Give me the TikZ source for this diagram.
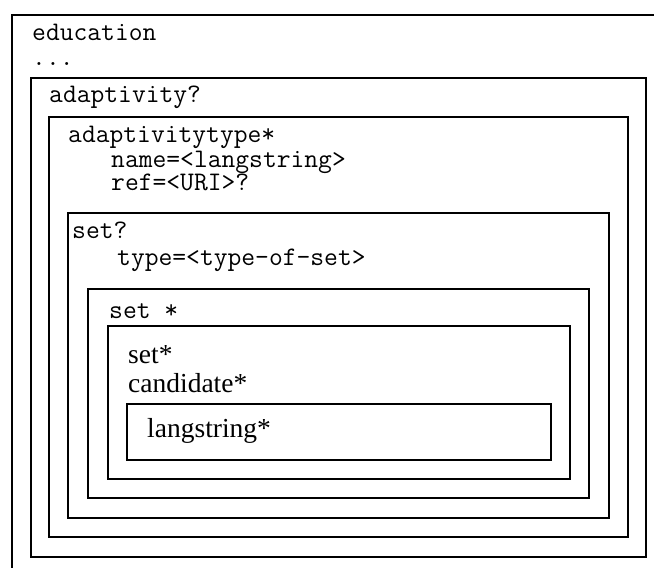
\documentclass[tikz,border=0pt]{standalone}
\usepackage{fontspec}
\setmainfont{Liberation Serif}
\begin{document}
\begin{tikzpicture}[x=1pt,y=-1pt,
  frame/.style={draw=black, line width=2pt, anchor=north west, inner sep=0pt, outer sep=0pt},
  thinframe/.style={frame, line width=1.5pt},
  mono/.style={anchor=base west, inner sep=0pt, font=\fontsize{26.8}{30}\selectfont\ttfamily},
  serif/.style={anchor=base west, inner sep=0pt, font=\fontsize{27.5}{30}\selectfont\rmfamily}]
\useasboundingbox (0,0) rectangle (654,568);
\clip (0,0) rectangle (654,568);
\fill[white] (0,0) rectangle (654,568);
% outer box, cropped by the picture edge
\node[frame, minimum width=700pt, minimum height=620pt] (edu) at (12,15) {};
\node[frame, minimum width=615pt, minimum height=479pt] (adap) at (31,78) {};
\node[frame, minimum width=579pt, minimum height=420pt] (atype) at (49,117) {};
\node[frame, minimum width=541pt, minimum height=305pt] (setq) at (68,213) {};
\node[frame, minimum width=501pt, minimum height=209pt] (setstar) at (88,289) {};
\node[thinframe, minimum width=462pt, minimum height=153pt] (inner) at (108,326) {};
\node[thinframe, minimum width=424pt, minimum height=56pt] (lang) at (127,404) {};
% texts
\node[mono] (t1) at (32,40) {education};
\node[mono] (t2) at (32,65) {...};
\node[mono] (t3) at (49,102) {adaptivity?};
\node[mono] (t4) at (68,142) {adaptivitytype*};
\node[mono] (t5) at (111,167) {name=<langstring>};
\node[mono] (t6) at (111,190) {ref=<URI>?};
\node[mono] (t7) at (72,238) {set?};
\node[mono] (t8) at (117,265) {type=<type-of-set>};
\node[mono] (t9) at (109,318) {set *};
\node[serif] (t10) at (128,363) {set*};
\node[serif] (t11) at (128,392) {candidate*};
\node[serif] (t12) at (147,437) {langstring*};
\end{tikzpicture}
\end{document}
